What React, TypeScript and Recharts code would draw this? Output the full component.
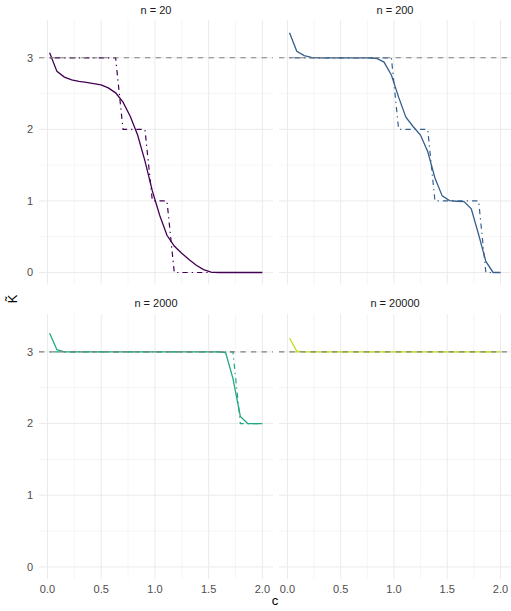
import React from "react";
import { LineChart, Line, XAxis, YAxis, ReferenceLine } from "recharts";

const cValues = [0.02, 0.088, 0.157, 0.225, 0.293, 0.361, 0.43, 0.498, 0.566, 0.634, 0.703, 0.771, 0.839, 0.907, 0.976, 1.044, 1.112, 1.18, 1.249, 1.317, 1.385, 1.453, 1.522, 1.59, 1.658, 1.726, 1.795, 1.863, 1.931, 2.0];

const est20 = [3.07, 2.81, 2.73, 2.69, 2.67, 2.655, 2.64, 2.62, 2.58, 2.51, 2.38, 2.18, 1.92, 1.56, 1.14, 0.8, 0.52, 0.37, 0.27, 0.18, 0.1, 0.04, 0.005, 0, 0, 0, 0, 0, 0, 0];
const step20 = [3, 3, 3, 3, 3, 3, 3, 3, 3, 3, 2, 2, 2, 2, 1, 1, 1, 0, 0, 0, 0, 0, 0, 0, 0, 0, 0, 0, 0, 0];

const est200 = [3.35, 3.09, 3.03, 3.005, 3.0, 3.0, 3.0, 3.0, 3.0, 3.0, 3.0, 3.0, 2.99, 2.94, 2.76, 2.45, 2.17, 2.04, 1.92, 1.69, 1.32, 1.07, 1.005, 0.995, 0.99, 0.89, 0.53, 0.155, 0, 0];
const step200 = [3, 3, 3, 3, 3, 3, 3, 3, 3, 3, 3, 3, 3, 3, 3, 2, 2, 2, 2, 2, 1, 1, 1, 1, 1, 1, 1, 0, 0, 0];

const est2000 = [3.26, 3.03, 3.0, 3.0, 3.0, 3.0, 3.0, 3.0, 3.0, 3.0, 3.0, 3.0, 3.0, 3.0, 3.0, 3.0, 3.0, 3.0, 3.0, 3.0, 3.0, 3.0, 3.0, 3.0, 2.99, 2.63, 2.1, 2.0, 2.0, 2.0];
const step2000 = [3, 3, 3, 3, 3, 3, 3, 3, 3, 3, 3, 3, 3, 3, 3, 3, 3, 3, 3, 3, 3, 3, 3, 3, 3, 3, 2, 2, 2, 2];

const est20000 = [3.19, 3.01, 3.0, 3.0, 3.0, 3.0, 3.0, 3.0, 3.0, 3.0, 3.0, 3.0, 3.0, 3.0, 3.0, 3.0, 3.0, 3.0, 3.0, 3.0, 3.0, 3.0, 3.0, 3.0, 3.0, 3.0, 3.0, 3.0, 3.0, 3.0];
const step20000 = [3, 3, 3, 3, 3, 3, 3, 3, 3, 3, 3, 3, 3, 3, 3, 3, 3, 3, 3, 3, 3, 3, 3, 3, 3, 3, 3, 3, 3, 3];

const panelTitles = ["n = 20", "n = 200", "n = 2000", "n = 20000"];
const panelColors = ["#440154", "#355F8D", "#22A884", "#BBDF27"];
const xTicks = [0, 0.5, 1, 1.5, 2];
const xMinor = [0.25, 0.75, 1.25, 1.75];
const yTicks = [0, 1, 2, 3];
const yMinor = [0.5, 1.5, 2.5];
const trueK = 3;

const FONT = "'Liberation Sans', Arial, Helvetica, sans-serif";

type PanelProps = {
  est: number[];
  step: number[];
  color: string;
  title: string;
  showX: boolean;
  showY: boolean;
  left: number;
  top: number;
};

function Panel({ est, step, color, title, showX, showY, left, top }: PanelProps) {
  const data = cValues.map((c, i) => ({ c, est: est[i], step: step[i] }));
  const width = showY ? 273 : 232;
  const plotTop = showX ? 0 : 20;
  const height = showX ? 265 + 18 : 284.5;
  const plotLeft = showY ? 39 : 0;
  const plotW = width - plotLeft;
  return (
    <div style={{ position: "absolute", left, top, width, height }}>
      <div
        style={{
          position: "absolute",
          left: plotLeft,
          width: plotW,
          top: showX ? -15.5 : 4.5,
          textAlign: "center",
          fontSize: 11,
          lineHeight: "11px",
          color: "#1A1A1A",
          fontFamily: FONT,
        }}
      >
        {title}
      </div>
      <LineChart width={width} height={height} data={data} margin={{ top: plotTop, right: 0, bottom: 0, left: 0 }}>
        <XAxis
          dataKey="c"
          type="number"
          domain={[-0.079, 2.099]}
          ticks={xTicks}
          allowDataOverflow
          hide={!showX}
          height={18}
          axisLine={false}
          tickLine={false}
          tickSize={4}
          tickMargin={2}
          tickFormatter={(v: number) => v.toFixed(1)}
          tick={{ fill: "#4D4D4D", fontSize: 11, fontFamily: FONT }}
        />
        <YAxis
          type="number"
          domain={[-0.168, 3.528]}
          ticks={yTicks}
          allowDataOverflow
          hide={!showY}
          width={39}
          axisLine={false}
          tickLine={false}
          tickSize={4}
          tickMargin={2}
          tick={{ fill: "#4D4D4D", fontSize: 11, fontFamily: FONT }}
        />
        {xMinor.map((v) => (
          <ReferenceLine key={"xm" + v} x={v} stroke="#F1F1F1" strokeWidth={0.7} />
        ))}
        {yMinor.map((v) => (
          <ReferenceLine key={"ym" + v} y={v} stroke="#F1F1F1" strokeWidth={0.7} />
        ))}
        {xTicks.map((v) => (
          <ReferenceLine key={"xM" + v} x={v} stroke="#EBEBEB" strokeWidth={1} />
        ))}
        {yTicks.map((v) => (
          <ReferenceLine key={"yM" + v} y={v} stroke="#EBEBEB" strokeWidth={1} />
        ))}
        <Line
          type="linear"
          dataKey="step"
          stroke={color}
          strokeWidth={1.2}
          strokeDasharray="1.3 4 5.3 4"
          dot={false}
          activeDot={false}
          isAnimationActive={false}
        />
        <Line
          type="linear"
          dataKey="est"
          stroke={color}
          strokeWidth={1.3}
          dot={false}
          activeDot={false}
          isAnimationActive={false}
        />
        <ReferenceLine y={trueK} stroke="#808080" strokeWidth={1.1} strokeDasharray="5.3 5.3" />
      </LineChart>
    </div>
  );
}

export default function App() {
  return (
    <div style={{ position: "absolute", left: 0, top: 0, width: 511, height: 611, background: "#FFFFFF", overflow: "hidden" }}>
      <Panel est={est20} step={step20} color={panelColors[0]} title={panelTitles[0]} showX={false} showY={true} left={0} top={0} />
      <Panel est={est200} step={step200} color={panelColors[1]} title={panelTitles[1]} showX={false} showY={false} left={279} top={0} />
      <Panel est={est2000} step={step2000} color={panelColors[2]} title={panelTitles[2]} showX={true} showY={true} left={0} top={313.5} />
      <Panel est={est20000} step={step20000} color={panelColors[3]} title={panelTitles[3]} showX={true} showY={false} left={279} top={313.5} />
      <div
        style={{
          position: "absolute",
          left: 39,
          width: 472,
          top: 594,
          textAlign: "center",
          fontSize: 13,
          lineHeight: "14px",
          color: "#000000",
          fontFamily: FONT,
        }}
      >
        c
      </div>
      <div
        style={{
          position: "absolute",
          left: 13,
          top: 299,
          transform: "translate(-50%, -50%) rotate(-90deg)",
          fontSize: 13,
          lineHeight: "16px",
          color: "#000000",
          fontFamily: FONT,
          whiteSpace: "nowrap",
        }}
      >
        K̃
      </div>
    </div>
  );
}
